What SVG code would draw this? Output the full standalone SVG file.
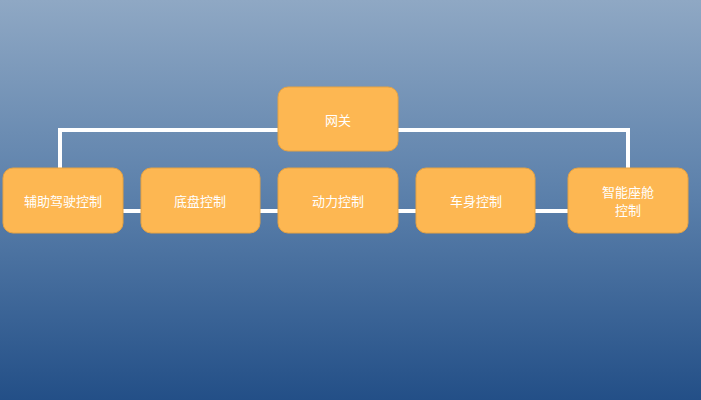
<svg xmlns="http://www.w3.org/2000/svg" width="701" height="400" viewBox="0 0 701 400">
<defs>
<linearGradient id="bg" x1="0" y1="0" x2="0" y2="1">
<stop offset="0" stop-color="#8FA8C4"/>
<stop offset="0.5" stop-color="#5A7FAA"/>
<stop offset="1" stop-color="#234F87"/>
</linearGradient>
<style>
.node rect{fill:#FDB752;stroke:#E5A243;stroke-width:1}
.node text{fill:#FFFFFF;font-family:"Noto Sans CJK SC","Noto Sans",sans-serif;font-size:13px;text-anchor:middle;dominant-baseline:central}
.conn{stroke:#FFFFFF;stroke-width:4;fill:none}
</style>
</defs>
<rect width="701" height="400" fill="url(#bg)"/>
<g id="connectors">
<polyline class="conn" points="60,168 60,130 628,130 628,168"/>
<line class="conn" x1="123" y1="211" x2="568" y2="211"/>
</g>
<g id="gateway" class="node"><rect x="278" y="87" width="120" height="64" rx="10"/><text x="338" y="119">网关</text></g>
<g id="adas" class="node"><rect x="3" y="168" width="120" height="65" rx="10"/><text x="63" y="200">辅助驾驶控制</text></g>
<g id="chassis" class="node"><rect x="141" y="168" width="119" height="65" rx="10"/><text x="200" y="200">底盘控制</text></g>
<g id="power" class="node"><rect x="278" y="168" width="120" height="65" rx="10"/><text x="338" y="200">动力控制</text></g>
<g id="body" class="node"><rect x="416" y="168" width="119" height="65" rx="10"/><text x="476" y="200">车身控制</text></g>
<g id="cockpit" class="node"><rect x="568" y="168" width="120" height="65" rx="10"/><text x="628" y="191">智能座舱</text><text x="628" y="209">控制</text></g>
</svg>
